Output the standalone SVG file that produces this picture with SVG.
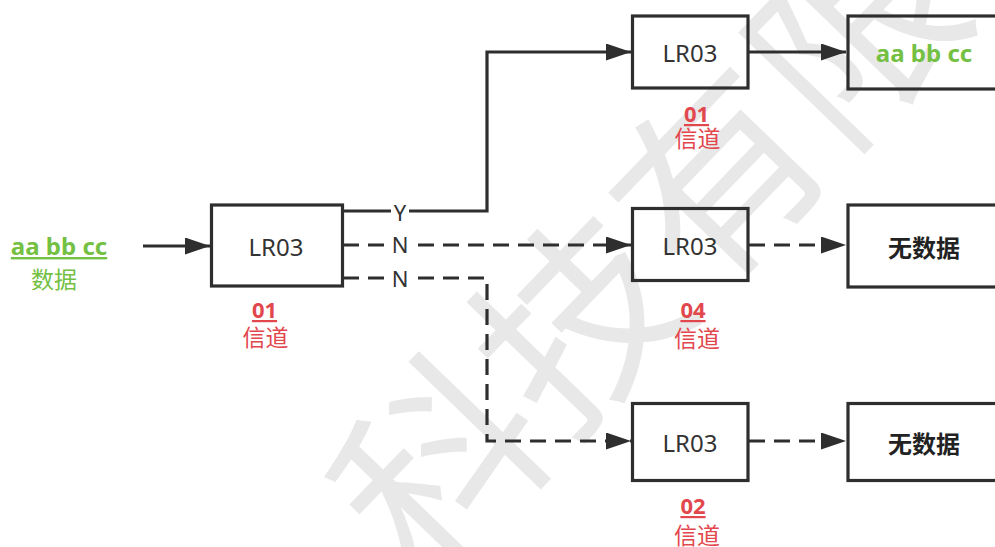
<svg xmlns="http://www.w3.org/2000/svg" width="995" height="547" viewBox="0 0 995 547">
<defs>
<style>
.box{fill:none;stroke:#2e2e2e;stroke-width:3.2}
.ln{fill:none;stroke:#2e2e2e;stroke-width:3.2}
.dash{stroke-dasharray:16 9}
.lr{font-family:"Noto Sans","Noto Sans CJK SC",sans-serif;font-size:24px;fill:#333;text-anchor:middle}
.lbl{font-family:"Noto Sans","Noto Sans CJK SC",sans-serif;font-size:22px;fill:#333;text-anchor:middle}
.num{font-family:"Noto Sans","Noto Sans CJK SC",sans-serif;font-size:22px;font-weight:bold;fill:#e2474d;text-anchor:middle;text-decoration:underline}
.ch{font-family:"Noto Sans CJK SC",sans-serif;font-size:23px;fill:#e2474d;text-anchor:middle}
.grn{font-family:"Noto Sans","Noto Sans CJK SC",sans-serif;font-size:24px;font-weight:bold;fill:#74c043;text-anchor:middle}
.grnc{font-family:"Noto Sans CJK SC",sans-serif;font-size:23px;fill:#74c043;text-anchor:middle}
.nd{font-family:"Noto Sans CJK SC",sans-serif;font-size:24px;font-weight:bold;fill:#222;text-anchor:middle}
.wm{font-family:"Noto Sans CJK SC",sans-serif;font-size:200px;fill:#e8e8e8}
</style>
<marker id="ah" markerUnits="userSpaceOnUse" markerWidth="25" markerHeight="17" refX="25" refY="8.5" orient="auto">
<path d="M0,0 L25,8.5 L0,17 z" fill="#2e2e2e"/>
</marker>
</defs>
<rect width="995" height="547" fill="#fff"/>
<g id="watermark" transform="translate(440,465) rotate(-46)">
<text class="wm" x="-100" y="74">科技有限</text>
</g>
<g id="connectors">
<line class="ln" x1="143" y1="246" x2="210" y2="246" marker-end="url(#ah)"/>
<path class="ln" d="M343,211 H487 V52 H631" marker-end="url(#ah)"/>
<path class="ln dash" d="M343,245 H631" marker-end="url(#ah)"/>
<path class="ln dash" d="M343,278 H487 V441 H631" marker-end="url(#ah)"/>
<path class="ln" d="M749,52 H846" marker-end="url(#ah)"/>
<path class="ln dash" d="M749,245 H846" marker-end="url(#ah)"/>
<path class="ln dash" d="M749,441 H846" marker-end="url(#ah)"/>
<rect x="391" y="200" width="18" height="22" fill="#fff"/>
<rect x="391" y="234" width="18" height="22" fill="#fff"/>
<rect x="391" y="267" width="18" height="22" fill="#fff"/>
<text class="lbl" x="400" y="221">Y</text>
<text class="lbl" x="400" y="253">N</text>
<text class="lbl" x="400" y="287">N</text>
</g>
<g id="input">
<text class="grn" x="59" y="255" text-decoration="underline">aa bb cc</text>
<text class="grnc" x="54" y="288">数据</text>
</g>
<g id="node1">
<rect class="box" x="211.5" y="205" width="131" height="81"/>
<text class="lr" x="276" y="256">LR03</text>
<text class="num" x="264.5" y="318">01</text>
<text class="ch" x="265.5" y="346">信道</text>
</g>
<g id="node2">
<rect class="box" x="632.5" y="16" width="115.5" height="72"/>
<text class="lr" x="690" y="62">LR03</text>
<text class="num" x="696.5" y="122">01</text>
<text class="ch" x="697.5" y="147">信道</text>
</g>
<g id="node3">
<rect class="box" x="848" y="16" width="160" height="73"/>
<text class="grn" x="924" y="62">aa bb cc</text>
</g>
<g id="node4">
<rect class="box" x="632.5" y="208.5" width="115.5" height="72"/>
<text class="lr" x="690" y="255">LR03</text>
<text class="num" x="693" y="318">04</text>
<text class="ch" x="697" y="347">信道</text>
</g>
<g id="node5">
<rect class="box" x="848" y="205" width="160" height="82"/>
<text class="nd" x="924" y="257">无数据</text>
</g>
<g id="node6">
<rect class="box" x="632.5" y="403.5" width="115.5" height="77"/>
<text class="lr" x="690" y="452">LR03</text>
<text class="num" x="693" y="514">02</text>
<text class="ch" x="697" y="544">信道</text>
</g>
<g id="node7">
<rect class="box" x="848" y="403.5" width="160" height="77"/>
<text class="nd" x="924" y="453">无数据</text>
</g>
</svg>
